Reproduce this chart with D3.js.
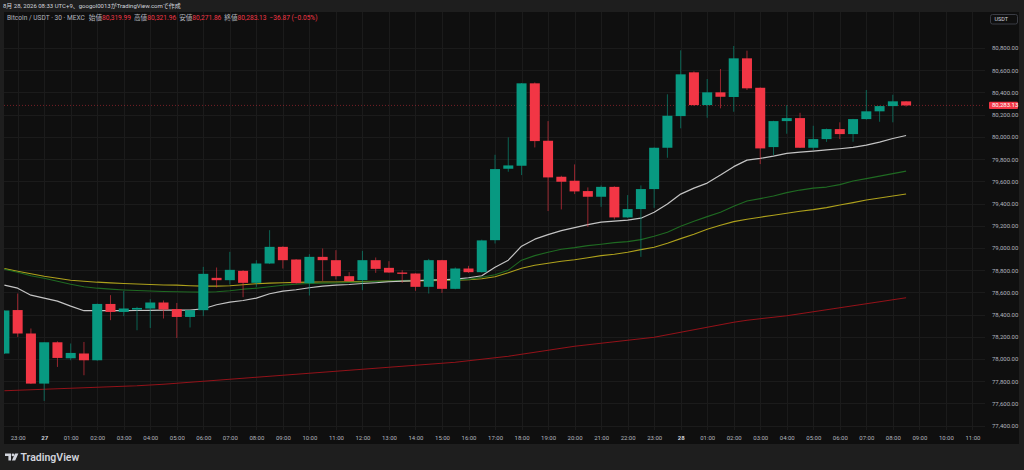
<!DOCTYPE html>
<html>
<head>
<meta charset="utf-8">
<script src="https://cdn.jsdelivr.net/npm/d3@7"></script>
<style>
html, body { margin: 0; padding: 0; background: #1e1e1e; overflow: hidden; }
svg { display: block; }
text { font-family: Roboto, "Noto Sans CJK JP", sans-serif; }
</style>
</head>
<body>
<div id="chart"></div>
<script>
// 30m candles, 26th 22:30 -> 28th 08:30 (UTC+9)
var opens = [78050,78441,78230,77779,78151,78007,78050,77989,78496,78424,
  78445,78455,78509,78450,78379,78440,78731,78710,78794,78686,
  78860,79010,78896,78683,78920,78890,78746,78710,78890,78821,
  78779,78770,78650,78890,78632,78815,78782,79070,79713,79740,
  80482,79965,79641,79605,79512,79461,79550,79275,79350,79530,
  79902,80187,80581,80286,80401,80359,80707,80442,79908,80142,
  80169,79902,79980,80070,80025,80160,80230,80277,80319.99];
var highs = [78437,78590,78275,78151,78160,78140,78154,78500,78575,78613,
  78470,78539,78527,78505,78440,78830,78824,78965,78800,78890,
  79160,79015,78900,78944,78995,78980,78782,78974,78914,78881,
  78800,78772,78902,78893,78825,78839,79075,79839,79995,80485,
  80490,80142,79650,79752,79545,79563,79555,79476,79563,79905,
  80383,80779,80590,80521,80611,80818,80776,80445,80145,80286,
  80217,80100,80075,80131,80162,80422,80280,80379,80321.96];
var lows = [78045,78199,77775,77623,77929,77989,77854,77985,78350,78386,
  78259,78280,78365,78190,78284,78386,78644,78671,78557,78650,
  78855,78815,78680,78572,78704,78716,78698,78620,78776,78776,
  78686,78614,78590,78595,78628,78775,78778,79040,79686,79656,
  79905,79332,79347,79485,79190,79370,79257,79270,78920,79361,
  79812,80077,80280,80172,80257,80226,80422,79755,79836,80028,
  79900,79881,79955,79980,79956,80155,80136,80131,80271.86];
var closes = [78437,78230,77779,78151,78010,78055,77989,78496,78424,78455,
  78460,78509,78446,78379,78440,78767,78710,78803,78686,78860,
  79010,78890,78683,78920,78890,78746,78701,78890,78812,78779,
  78767,78650,78890,78632,78815,78782,79068,79710,79743,80482,
  79962,79635,79596,79509,79461,79550,79275,79350,79530,79902,
  80190,80563,80286,80401,80361,80707,80437,79896,80142,80169,
  79902,79980,80070,80025,80160,80230,80277,80320,80283.13];

// moving averages
var maWhite = [78665,78638,78575,78548,78521,78476,78435,78435,78435,78435,
  78437,78438,78440,78441,78440,78453,78489,78512,78527,78548,
  78588,78611,78624,78642,78656,78665,78671,78680,78687,78696,
  78701,78705,78710,78714,78719,78732,78750,78827,78890,79016,
  79079,79120,79156,79183,79210,79232,79241,79250,79268,79322,
  79395,79485,79539,79584,79656,79732,79791,79806,79827,79851,
  79863,79872,79883,79893,79905,79926,79953,79985,80012];
var maGreen = [78809,78782,78750,78728,78701,78674,78651,78638,78629,78622,
  78617,78612,78608,78606,78603,78602,78606,78615,78629,78638,
  78651,78665,78674,78680,78683,78685,78689,78694,78698,78703,
  78707,78710,78712,78713,78715,78717,78737,78759,78800,78890,
  78931,78962,78989,79003,79021,79034,79048,79057,79075,79106,
  79142,79196,79241,79282,79322,79376,79422,79444,79467,79498,
  79521,79539,79548,79570,79602,79624,79647,79669,79692];
var maYellow = [78814,78791,78768,78746,78728,78710,78701,78692,78686,78680,
  78676,78671,78667,78665,78660,78656,78656,78660,78669,78678,
  78683,78687,78690,78692,78694,78694,78695,78697,78699,78701,
  78703,78704,78706,78708,78710,78714,78723,78741,78777,78818,
  78845,78863,78881,78894,78912,78931,78944,78962,78985,79007,
  79043,79084,79124,79169,79205,79237,79259,79277,79295,79313,
  79331,79345,79363,79386,79408,79431,79449,79467,79485];
var maRed = [77714,77719,77723,77728,77732,77737,77741,77746,77750,77755,
  77759,77766,77773,77782,77791,77800,77809,77818,77827,77836,
  77845,77854,77863,77872,77881,77890,77899,77908,77917,77926,
  77935,77944,77953,77962,77971,77985,77998,78012,78025,78043,
  78061,78079,78097,78115,78129,78142,78156,78169,78183,78196,
  78219,78241,78264,78286,78309,78331,78349,78363,78376,78390,
  78408,78426,78444,78462,78480,78498,78516,78534,78552];

// hour labels, one every two candle slots starting at slot 1
var timeLabels = ["23:00","27","01:00","02:00","03:00","04:00","05:00","06:00","07:00","08:00",
  "09:00","10:00","11:00","12:00","13:00","14:00","15:00","16:00","17:00","18:00",
  "19:00","20:00","21:00","22:00","23:00","28","01:00","02:00","03:00","04:00",
  "05:00","06:00","07:00","08:00","09:00","10:00","11:00"];
var priceTicks = [80800,80600,80400,80200,80000,79800,79600,79400,79200,79000,
  78800,78600,78400,78200,78000,77800,77600,77400];

var headerText = "8月 28, 2026 08:33 UTC+9、googol0013がTradingView.comで作成";
var symbolText = "Bitcoin / USDT · 30 · MEXC";
var ohlcNames = ["始値","高値","安値","終値"];

var W = 1024, H = 470;
var plot = {left: 4, right: 985, top: 12, bottom: 430};
var upColor = "#089981", downColor = "#f23645";
var axisColor = "#b2b5be";
var fmt = d3.format(",.2f");

var svg = d3.select("#chart").append("svg")
    .attr("width", W)
    .attr("height", H);

svg.append("rect").attr("width", W).attr("height", H).attr("fill", "#1e1e1e");
svg.append("rect")
    .attr("x", 4).attr("y", 12)
    .attr("width", 1015).attr("height", 432)
    .attr("fill", "#0f0f0f");

var x = d3.scaleLinear().domain([0, opens.length - 1]).range([4.4, 906.1]);
var y = d3.scaleLinear().domain([77400, 80800]).range([425.7, 48]);

var tickIdx = timeLabels.map(function(d, k) { return 1 + 2 * k; });

// grid
svg.append("g").selectAll("line")
    .data(priceTicks)
    .join("line")
    .attr("x1", plot.left).attr("x2", plot.right)
    .attr("y1", function(d) { return Math.round(y(d)) + 0.5; })
    .attr("y2", function(d) { return Math.round(y(d)) + 0.5; })
    .attr("stroke", "#1b1b1b");
svg.append("g").selectAll("line")
    .data(tickIdx)
    .join("line")
    .attr("x1", function(d) { return Math.round(x(d)) + 0.5; })
    .attr("x2", function(d) { return Math.round(x(d)) + 0.5; })
    .attr("y1", plot.top).attr("y2", plot.bottom)
    .attr("stroke", "#1b1b1b");

svg.append("clipPath").attr("id", "clip")
  .append("rect")
    .attr("x", plot.left).attr("y", plot.top)
    .attr("width", plot.right - plot.left)
    .attr("height", plot.bottom - plot.top);

var g = svg.append("g").attr("clip-path", "url(#clip)");

// last price line
var last = closes.length - 1;
g.append("line")
    .attr("x1", plot.left).attr("x2", plot.right)
    .attr("y1", y(closes[last])).attr("y2", y(closes[last]))
    .attr("stroke", downColor)
    .attr("stroke-opacity", 0.45)
    .attr("stroke-dasharray", "1,2");

// moving averages
var line = d3.line()
    .x(function(d, i) { return x(i); })
    .y(function(d) { return y(d); });

[
  {values: maRed, color: "#921219", width: 1.1},
  {values: maYellow, color: "#aea11c", width: 1.1},
  {values: maGreen, color: "#1f6a22", width: 1.1},
  {values: maWhite, color: "#c4c4c4", width: 1.2}
].forEach(function(s) {
    g.append("path")
        .datum(s.values)
        .attr("d", line)
        .attr("fill", "none")
        .attr("stroke", s.color)
        .attr("stroke-width", s.width)
        .attr("stroke-linejoin", "round");
});

// candles
var candles = opens.map(function(o, i) {
    return {i: i, o: o, h: highs[i], l: lows[i], c: closes[i]};
});
var bodyW = 10;

g.append("g").selectAll("line")
    .data(candles)
    .join("line")
    .attr("x1", function(d) { return x(d.i); })
    .attr("x2", function(d) { return x(d.i); })
    .attr("y1", function(d) { return y(d.h); })
    .attr("y2", function(d) { return y(d.l); })
    .attr("stroke", function(d) { return d.c >= d.o ? upColor : downColor; })
    .attr("stroke-opacity", 0.6)
    .attr("stroke-width", 1);

g.append("g").selectAll("rect")
    .data(candles)
    .join("rect")
    .attr("x", function(d) { return x(d.i) - bodyW / 2; })
    .attr("y", function(d) { return y(Math.max(d.o, d.c)); })
    .attr("width", bodyW)
    .attr("height", function(d) { return Math.max(1, Math.abs(y(d.o) - y(d.c))); })
    .attr("fill", function(d) { return d.c >= d.o ? upColor : downColor; });

// price axis
var yAxis = svg.append("g")
    .attr("transform", "translate(989,0)")
    .call(d3.axisRight(y).tickValues(priceTicks).tickFormat(fmt).tickSize(0));
yAxis.select(".domain").remove();
yAxis.selectAll("text")
    .attr("x", 3)
    .attr("fill", axisColor)
    .style("font-size", "6px");

// time axis
var xAxis = svg.append("g")
    .attr("transform", "translate(0,432.5)")
    .call(d3.axisBottom(x).tickValues(tickIdx)
        .tickFormat(function(d, k) { return timeLabels[k]; })
        .tickSize(0));
xAxis.select(".domain").remove();
xAxis.selectAll("text")
    .attr("fill", function(d, k) { return timeLabels[k].length < 3 ? "#d1d4dc" : axisColor; })
    .style("font-weight", function(d, k) { return timeLabels[k].length < 3 ? "bold" : "normal"; })
    .style("font-size", "6px");

// last price tag
svg.append("rect")
    .attr("x", 989).attr("y", y(closes[last]) - 3.6)
    .attr("width", 29).attr("height", 7.2)
    .attr("rx", 1)
    .attr("fill", downColor);
svg.append("text")
    .attr("x", 992).attr("y", y(closes[last]))
    .attr("dy", "0.34em")
    .attr("fill", "#ffffff")
    .style("font-size", "6px")
    .text(fmt(closes[last]));

// currency box
svg.append("rect")
    .attr("x", 990.5).attr("y", 14.5)
    .attr("width", 27).attr("height", 9.5)
    .attr("rx", 2)
    .attr("fill", "none")
    .attr("stroke", "#3a3c44");
svg.append("text")
    .attr("x", 994.5).attr("y", 19.5)
    .attr("dy", "0.34em")
    .attr("fill", "#d1d4dc")
    .style("font-size", "5.5px")
    .text("USDT");

// header
svg.append("text")
    .attr("x", 3).attr("y", 6.3)
    .attr("dy", "0.34em")
    .attr("fill", "#d1d4dc")
    .style("font-size", "6px")
    .text(headerText);

var legend = svg.append("text")
    .attr("x", 7).attr("y", 17.4)
    .attr("dy", "0.34em")
    .style("font-size", "6.6px");
legend.append("tspan").attr("fill", axisColor).text(symbolText);
var ohlcVals = [opens[last], highs[last], lows[last], closes[last]];
ohlcNames.forEach(function(n, k) {
    legend.append("tspan").attr("dx", k === 0 ? 4 : 3).attr("fill", axisColor).text(n);
    legend.append("tspan").attr("fill", downColor).text(fmt(ohlcVals[k]));
});
var chg = closes[last] - closes[last - 1];
legend.append("tspan")
    .attr("dx", 3)
    .attr("fill", downColor)
    .text(d3.format("+.2f")(chg) + " (" + d3.format("+.2%")(chg / closes[last - 1]) + ")");

// TradingView logo
var logo = svg.append("g").attr("fill", "#d1d4dc");
logo.append("path").attr("d", "M5 453.5h6v7h-2.6v-4.4H5z");
logo.append("circle").attr("cx", 12.9).attr("cy", 454.9).attr("r", 1.3);
logo.append("path").attr("d", "M15 453.5h3.4l-3.2 7h-3.3z");
svg.append("text")
    .attr("x", 20.5).attr("y", 457.2)
    .attr("dy", "0.35em")
    .attr("fill", "#d1d4dc")
    .style("font-size", "10.5px")
    .style("font-weight", "600")
    .text("TradingView");
</script>
</body>
</html>
